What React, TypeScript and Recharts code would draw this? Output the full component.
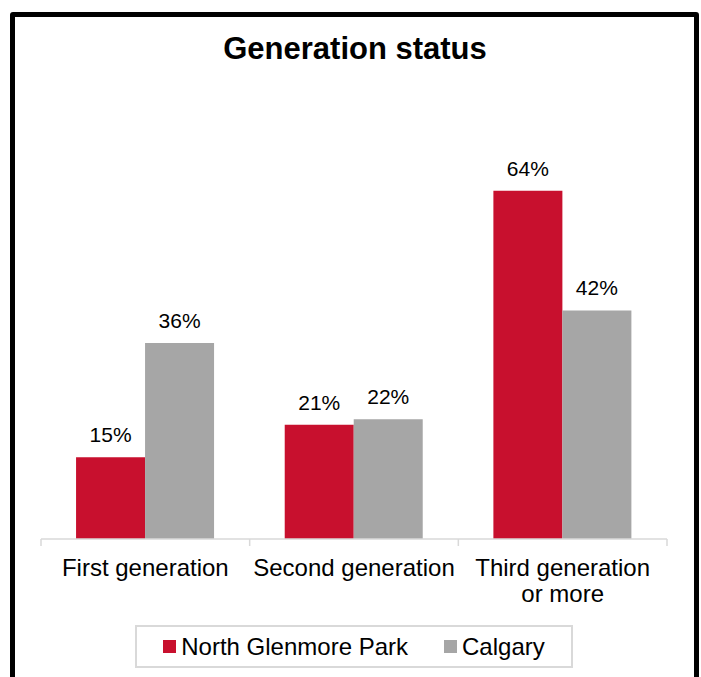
import { BarChart, Bar, XAxis, YAxis, Legend, LabelList } from "recharts";

const categories = ["First generation", "Second generation", "Third generation\nor more"];
const northGlenmore = [15, 21, 64];
const calgary = [36, 22, 42];
const seriesNames = ["North Glenmore Park", "Calgary"];

const data = categories.map((name, i) => ({
  name,
  ngp: northGlenmore[i],
  cal: calgary[i],
}));

const FONT = "Arial, 'Liberation Sans', sans-serif";

// category label plus Excel-style tick marks at the band edges
const AxisTick = (props: any) => {
  const { x, y, payload, index, width, visibleTicksCount } = props;
  const half = payload.offset ?? width / visibleTicksCount / 2;
  const lines = String(payload.value).split("\n");
  return (
    <g>
      <line x1={x - half} x2={x - half} y1={y} y2={y + 7} stroke="#d9d9d9" strokeWidth={1.5} />
      {index === visibleTicksCount - 1 && (
        <line x1={x + half} x2={x + half} y1={y} y2={y + 7} stroke="#d9d9d9" strokeWidth={1.5} />
      )}
      <text x={x} y={y + 37} textAnchor="middle" fontSize={24} fill="#000" fontFamily={FONT}>
        {lines.map((l, i) => (
          <tspan key={i} x={x} dy={i === 0 ? 0 : 26}>
            {l}
          </tspan>
        ))}
      </text>
    </g>
  );
};

const LegendBox = (props: any) => {
  const items = [...(props.payload || [])].sort(
    (a: any, b: any) => seriesNames.indexOf(a.value) - seriesNames.indexOf(b.value)
  );
  return (
    <div
      style={{
        boxSizing: "border-box",
        width: 438,
        height: 43,
        border: "2px solid #d9d9d9",
        display: "flex",
        alignItems: "center",
        justifyContent: "center",
        gap: 36,
        fontFamily: FONT,
        fontSize: 24,
        color: "#000",
      }}
    >
      {items.map((p: any) => (
        <div key={p.value} style={{ display: "flex", alignItems: "center", gap: 5 }}>
          <span style={{ display: "inline-block", width: 13, height: 13, background: p.color }} />
          <span>{p.value}</span>
        </div>
      ))}
    </div>
  );
};

export default function App() {
  return (
    <div style={{ position: "absolute", left: 0, top: 0, width: 701, height: 677, background: "#fff", overflow: "hidden" }}>
      <div
        style={{
          position: "absolute",
          left: 10,
          top: 12,
          width: 689,
          height: 700,
          boxSizing: "border-box",
          border: "5px solid #000",
          borderRadius: 3,
        }}
      />
      <div
        style={{
          position: "absolute",
          left: 0,
          width: 710,
          top: 31,
          textAlign: "center",
          fontFamily: FONT,
          fontWeight: "bold",
          fontSize: 31,
          color: "#000",
        }}
      >
        Generation status
      </div>
      <div style={{ position: "absolute", left: 0, top: 0 }}>
        <BarChart
          width={701}
          height={677}
          data={data}
          margin={{ top: 158, right: 34, left: 41, bottom: 68 }}
          barCategoryGap="16.8%"
          barGap={0}
        >
          <XAxis
            dataKey="name"
            interval={0}
            tickLine={false}
            tickSize={0}
            tickMargin={0}
            height={70}
            axisLine={{ stroke: "#d9d9d9", strokeWidth: 1.5 }}
            tick={<AxisTick />}
          />
          <YAxis hide domain={[0, 70]} />
          <Legend
            verticalAlign="middle"
            align="center"
            layout="horizontal"
            content={<LegendBox />}
            wrapperStyle={{ top: 625, left: 135, width: 438, height: 43 }}
          />
          <Bar dataKey="ngp" name={seriesNames[0]} fill="#c8102e" isAnimationActive={false}>
            <LabelList
              dataKey="ngp"
              position="top"
              offset={15}
              formatter={(v: any) => `${v}%`}
              style={{ fontSize: 21, fill: "#000", fontFamily: FONT }}
            />
          </Bar>
          <Bar dataKey="cal" name={seriesNames[1]} fill="#a6a6a6" isAnimationActive={false}>
            <LabelList
              dataKey="cal"
              position="top"
              offset={15}
              formatter={(v: any) => `${v}%`}
              style={{ fontSize: 21, fill: "#000", fontFamily: FONT }}
            />
          </Bar>
        </BarChart>
      </div>
    </div>
  );
}
